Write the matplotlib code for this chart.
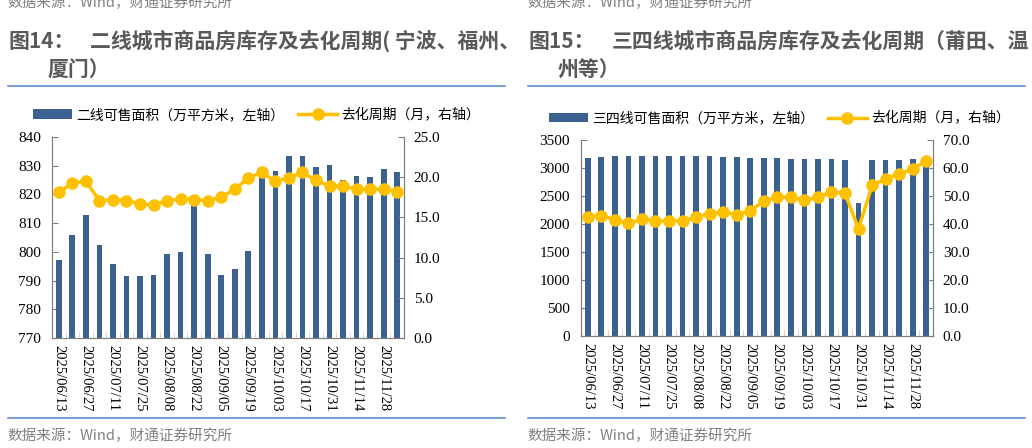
import matplotlib
matplotlib.use("Agg")
import matplotlib.pyplot as plt
from matplotlib.lines import Line2D
import numpy as np

plt.rcParams['font.family'] = ['Noto Sans CJK SC', 'DejaVu Sans']

# 周度日期
dates = ["2025/06/13", "2025/06/20", "2025/06/27", "2025/07/04", "2025/07/11",
         "2025/07/18", "2025/07/25", "2025/08/01", "2025/08/08", "2025/08/15",
         "2025/08/22", "2025/08/29", "2025/09/05", "2025/09/12", "2025/09/19",
         "2025/09/26", "2025/10/03", "2025/10/10", "2025/10/17", "2025/10/24",
         "2025/10/31", "2025/11/07", "2025/11/14", "2025/11/21", "2025/11/28",
         "2025/12/05"]

# 图14 二线城市
area2 = [797.3, 805.9, 812.7, 802.4, 795.9, 791.7, 791.7, 792.0, 799.4, 800.0,
         817.3, 799.3, 792.0, 793.9, 800.3, 829.7, 828.2, 833.3, 833.4, 829.5,
         830.4, 825.0, 826.3, 825.9, 828.9, 827.8]
cycle2 = [18.1, 19.3, 19.5, 17.1, 17.2, 17.1, 16.7, 16.5, 17.1, 17.3,
          17.2, 17.1, 17.5, 18.5, 19.9, 20.6, 19.5, 19.9, 20.6, 19.6,
          18.9, 18.9, 18.5, 18.5, 18.5, 18.2]

# 图15 三四线城市
area34 = [3170, 3188, 3218, 3206, 3206, 3212, 3218, 3212, 3206, 3206,
          3200, 3188, 3182, 3182, 3176, 3158, 3158, 3153, 3153, 3147,
          2372, 3135, 3141, 3141, 3153, 3140]
cycle34 = [42.6, 43.0, 41.5, 40.2, 41.7, 41.2, 41.0, 41.2, 42.4, 43.7,
           44.2, 43.3, 44.7, 48.2, 49.6, 49.5, 48.6, 49.5, 51.5, 50.9,
           38.3, 53.8, 56.1, 57.9, 59.6, 62.6]

BAR = '#3b6190'
LINE = '#ffc000'
GREY = '#595959'
SPINE = '#7f7f7f'
SERIF = 'Liberation Serif'

W, H = 1032, 448
fig = plt.figure(figsize=(W / 100, H / 100), dpi=100)


def px(x, y):
    return x / W, 1 - y / H


def panel(rect, bars, line, ylim, yticks, y2lim, y2ticks, barlabel, legx):
    ax = fig.add_axes(rect)
    x = np.arange(len(dates))
    ax.bar(x, [v - ylim[0] for v in bars], bottom=ylim[0], width=0.42, color=BAR,
           label=barlabel, zorder=2)
    ax.set_xlim(-0.5, len(dates) - 0.5)
    ax.set_ylim(*ylim)
    ax.set_yticks(yticks)
    ax.set_yticklabels([str(t) for t in yticks], fontfamily=SERIF, fontsize=11)
    ax.set_xticks(x[::2])
    ax.set_xticklabels(dates[::2], rotation=270, fontfamily=SERIF, fontsize=10.5)
    ax.set_xticks(np.arange(len(dates) + 1) - 0.5, minor=True)
    ax.tick_params(axis='x', which='major', length=0, pad=5)
    ax.tick_params(axis='x', which='minor', direction='in', length=4, color='#d0d0d0')
    ax.tick_params(axis='y', direction='in', length=4, color=SPINE, pad=8)
    for s in ('left', 'bottom', 'right'):
        ax.spines[s].set_color(SPINE)
    ax.spines['top'].set_visible(False)

    ax2 = ax.twinx()
    ax2.plot(x, line, color=LINE, lw=2.5, marker='o', markersize=8,
             label='去化周期（月，右轴）', zorder=3)
    ax2.set_ylim(*y2lim)
    ax2.set_yticks(y2ticks)
    ax2.set_yticklabels(['{:.1f}'.format(t) for t in y2ticks], fontfamily=SERIF, fontsize=11)
    ax2.tick_params(axis='y', direction='in', length=4, color=SPINE, pad=7)
    for s in ('left', 'bottom', 'right'):
        ax2.spines[s].set_color(SPINE)
    ax2.spines['top'].set_visible(False)

    h1, l1 = ax.get_legend_handles_labels()
    h2, l2 = ax2.get_legend_handles_labels()
    ax2.legend(h1 + h2, l1 + l2, ncol=2, frameon=False, fontsize=10,
               loc='center left', bbox_to_anchor=(legx, 1.11),
               handlelength=2.8, handletextpad=0.3, columnspacing=1.0,
               borderaxespad=0)
    return ax, ax2


l, b = px(52, 338)
panel([l, b, 352 / W, 201 / H], area2, cycle2, (770, 840), list(range(770, 841, 10)),
      (0, 25), [0, 5, 10, 15, 20, 25], '二线可售面积（万平方米，左轴）', -0.069)

l, b = px(581, 336)
panel([l, b, 352 / W, 196 / H], area34, cycle34, (0, 3500), list(range(0, 3501, 500)),
      (0, 70), [0, 10, 20, 30, 40, 50, 60, 70], '三四线可售面积（万平方米，左轴）', -0.107)

# 标题与来源
src = '数据来源：Wind，财通证券研究所'
for x0, tag, t1, t2, x1, x2 in [
        (8, '图14：', '二线城市商品房库存及去化周期( 宁波、福州、', '厦门）', 90, 48),
        (528, '图15：', '三四线城市商品房库存及去化周期（莆田、温', '州等）', 612, 558)]:
    fig.text(*px(x0 - 1, 3), src, fontsize=10.5, color='#808080', va='center')
    fig.text(*px(x0, 41), tag, fontsize=15, color=GREY, fontweight='bold', va='center')
    fig.text(*px(x1, 41), t1, fontsize=15, color=GREY, fontweight='bold', va='center')
    fig.text(*px(x2, 70), t2, fontsize=15, color=GREY, fontweight='bold', va='center')
    fig.add_artist(Line2D([x0 / W, (x0 + 497) / W], [1 - 86 / H] * 2, color='#5b8fd0', lw=1.2))
    fig.add_artist(Line2D([x0 / W, (x0 + 497) / W], [1 - 418 / H] * 2, color='#5b8fd0', lw=1.2))
    fig.text(*px(x0 - 1, 436), src, fontsize=10.5, color='#808080', va='center')

fig.savefig('out.png', dpi=100)
